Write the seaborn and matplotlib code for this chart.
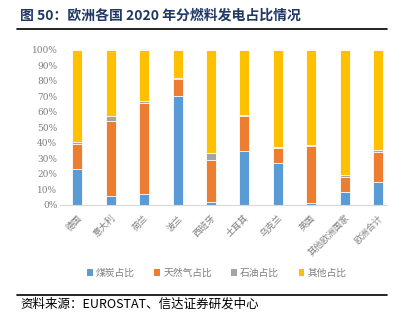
import matplotlib
matplotlib.use("Agg")
import matplotlib.pyplot as plt
import seaborn as sns
import pandas as pd
import numpy as np
from matplotlib.patches import Patch

categories = ["德国", "意大利", "荷兰", "波兰", "西班牙", "土耳其", "乌克兰", "英国", "其他欧洲国家", "欧洲合计"]
coal = [23.4, 5.5, 7.0, 70.5, 1.8, 34.6, 27.3, 1.4, 8.2, 14.6]
gas = [16.2, 48.4, 59.0, 10.4, 26.9, 23.0, 9.6, 36.6, 10.1, 19.6]
oil = [0.9, 3.5, 1.0, 1.1, 4.5, 0.3, 0.4, 0.5, 0.8, 1.5]
other = [100 - a - b - c for a, b, c in zip(coal, gas, oil)]
series_names = ["煤炭占比", "天然气占比", "石油占比", "其他占比"]
colors = ["#5B9BD5", "#ED7D31", "#A5A5A5", "#FFC000"]

sns.set_style("white")
plt.rcParams['font.family'] = ['Noto Sans CJK SC', 'DejaVu Sans']

fig = plt.figure(figsize=(4.09, 3.28), dpi=100)
ax = fig.add_axes([0.147, 0.375, 0.799, 0.473])

data = np.array([coal, gas, oil, other])
cum = np.cumsum(data, axis=0)
for i in range(3, -1, -1):
    df = pd.DataFrame({"cat": categories, "val": cum[i] / 100.0})
    sns.barplot(data=df, x="cat", y="val", color=colors[i], width=0.3,
                edgecolor="white", linewidth=0.6, ax=ax, saturation=1)

ax.set_xlim(-0.52, 9.27)
ax.set_ylim(0, 1.0)
ax.set_yticks(np.arange(0, 1.01, 0.1))
ax.set_yticklabels([f"{int(round(v*100))}%" for v in np.arange(0, 1.01, 0.1)],
                   fontsize=6.5, color="#7F7F7F", family=['DejaVu Serif'])
ax.set_xticks(range(len(categories)))
ax.set_xticklabels(categories, rotation=45, ha="right", rotation_mode="anchor",
                   fontsize=6.5, color="#7F7F7F")
ax.tick_params(axis="y", length=0, pad=2)
ax.tick_params(axis="x", length=0, pad=6)
ax.set_xlabel("")
ax.set_ylabel("")
for s in ["top", "right", "left"]:
    ax.spines[s].set_visible(False)
ax.spines["bottom"].set_color("#D9D9D9")
ax.grid(False)

handles = [Patch(facecolor=c, edgecolor="none") for c in colors]
fig.legend(handles, series_names, loc="center", bbox_to_anchor=(0.53, 1 - 273/328),
           ncol=4, frameon=False, fontsize=7, handlelength=0.6, handleheight=0.6,
           handletextpad=0.3, columnspacing=2.0, labelcolor="#7F7F7F")

fig.text(20/409, 1 - 16/328, "图 50：欧洲各国 2020 年分燃料发电占比情况", fontsize=10,
         fontweight="bold", color="#1F3864", va="center", ha="left")
fig.add_artist(plt.Line2D([17/409, 387/409], [1 - 29/328, 1 - 29/328], color="black", lw=1.2))
fig.add_artist(plt.Line2D([17/409, 387/409], [1 - 295/328, 1 - 295/328], color="black", lw=1.2))
fig.text(20/409, 1 - 304/328, "资料来源：EUROSTAT、信达证券研发中心", fontsize=9,
         style="italic", color="black", va="center", ha="left")

fig.savefig("out.png", dpi=100)
